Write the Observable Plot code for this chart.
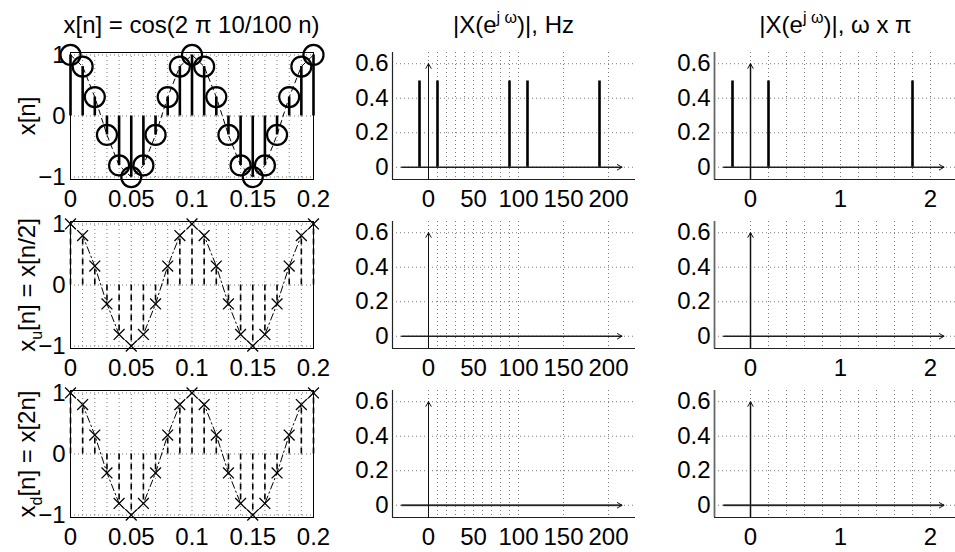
<!DOCTYPE html>
<html><head><meta charset="utf-8">
<script src="https://cdn.jsdelivr.net/npm/d3@7"></script>
<script src="https://cdn.jsdelivr.net/npm/@observablehq/plot@0.6"></script>
<style>
body{margin:0;background:#fff;}
#chart{position:relative;width:955px;height:552px;overflow:hidden;background:#fff;font-family:"Liberation Sans",Arial,sans-serif;color:#000;}
.title{position:absolute;width:340px;text-align:center;font-size:24px;line-height:24px;white-space:nowrap;}
.ylab{position:absolute;font-size:24px;line-height:24px;white-space:nowrap;transform:translate(-50%,-50%) rotate(-90deg);}
sup{font-size:16px;line-height:0;vertical-align:10px;}
sub{font-size:16px;line-height:0;vertical-align:-7px;}
svg{position:absolute;overflow:visible;}
</style></head>
<body><div id="chart"></div>
<script>
// ---- data ----
const sampleTimes = [0, 0.01, 0.02, 0.03, 0.04, 0.05, 0.06, 0.07, 0.08, 0.09, 0.1, 0.11, 0.12, 0.13, 0.14, 0.15, 0.16, 0.17, 0.18, 0.19, 0.2];
const xValues  = [1, 0.81, 0.31, -0.31, -0.81, -1, -0.81, -0.31, 0.31, 0.81, 1, 0.81, 0.31, -0.31, -0.81, -1, -0.81, -0.31, 0.31, 0.81, 1];
const xuValues = [1, 0.81, 0.31, -0.31, -0.81, -1, -0.81, -0.31, 0.31, 0.81, 1, 0.81, 0.31, -0.31, -0.81, -1, -0.81, -0.31, 0.31, 0.81, 1];
const xdValues = [1, 0.81, 0.31, -0.31, -0.81, -1, -0.81, -0.31, 0.31, 0.81, 1, 0.81, 0.31, -0.31, -0.81, -1, -0.81, -0.31, 0.31, 0.81, 1];

const hzFreqs = [-10, 10, 90, 110, 190];
const hzMags  = [0.5, 0.5, 0.5, 0.5, 0.5];
const radFreqs = [-0.2, 0.2, 1.8];
const radMags  = [0.5, 0.5, 0.5];
const xuHzFreqs = [], xuHzMags = [], xuRadFreqs = [], xuRadMags = [];
const xdHzFreqs = [], xdHzMags = [], xdRadFreqs = [], xdRadMags = [];

const timeXTicks = [0, 0.05, 0.1, 0.15, 0.2];
const timeYTicks = [-1, 0, 1];
const hzXTicks = [0, 50, 100, 150, 200];
const radXTicks = [0, 1, 2];
const specYTicks = [0, 0.2, 0.4, 0.6];
const hzGridX = [0, 10, 20, 30, 40, 50, 60, 70, 80, 90, 100, 150, 200];
const radGridX = [0, 0.2, 0.4, 0.6, 0.8, 1, 1.2, 1.4, 1.6, 1.8, 2];
const hzArrowX = [-30, 215];
const radArrowX = [-0.3, 2.15];
const specArrowTop = 0.6;

const titles = ["x[n] = cos(2 \u03c0 10/100 n)", "|X(e<sup>j \u03c9</sup>)|, Hz", "|X(e<sup>j \u03c9</sup>)|, \u03c9 x \u03c0"];
const yLabels = ["x[n]", "x<sub>u</sub>[n] = x[n/2]", "x<sub>d</sub>[n] = x[2n]"];

// ---- layout ----
const W = 243, H = 127;
const colX = [70, 392, 714];
const rowY = [52, 221, 390];
const chart = document.getElementById("chart");
const FONT = {fontFamily: '"Liberation Sans", Arial, sans-serif', fontSize: "24px", color: "black", background: "transparent", overflow: "visible"};
const grid = {stroke: "#7a7a7a", strokeDasharray: "1,3", strokeWidth: 1};
const fmt = d => d < 0 ? "\u2212" + (-d) : String(d);

function place(svg, col, row, ml, mt) {
  svg.style.left = (colX[col] - ml) + "px";
  svg.style.top = (rowY[row] - mt) + "px";
  chart.appendChild(svg);
}

function timePanel(values, kind) {
  const data = sampleTimes.map((t, i) => ({t, v: values[i], base: 0}));
  const marks = [Plot.ruleX(sampleTimes, grid), Plot.ruleY(timeYTicks, grid)];
  if (kind === "o") {
    marks.push(
      Plot.line(data, {x: "t", y: "v", stroke: "black", strokeWidth: 1, strokeDasharray: "5,4"}),
      Plot.ruleX(data, {x: "t", y1: "base", y2: "v", stroke: "black", strokeWidth: 2.6}),
      Plot.dot(data, {x: "t", y: "v", r: 10, stroke: "black", strokeWidth: 2.2, fill: "none"})
    );
  } else {
    marks.push(
      Plot.line(data, {x: "t", y: "v", stroke: "black", strokeWidth: 1, strokeDasharray: "7,3,1.5,3"}),
      Plot.ruleX(data, {x: "t", y1: "base", y2: "v", stroke: "black", strokeWidth: 1.6, strokeDasharray: "6,4"}),
      Plot.dot(data, {x: "t", y: "v", symbol: "times", r: 5, stroke: "black", strokeWidth: 1.3})
    );
  }
  marks.push(Plot.frame({stroke: "black", strokeWidth: 1}));
  return Plot.plot({
    width: 70 + W + 6, height: 14 + H + 40,
    marginLeft: 70, marginRight: 6, marginTop: 14, marginBottom: 40,
    style: FONT,
    x: {domain: [0, 0.2], ticks: timeXTicks, tickSize: 0, tickPadding: 10, tickFormat: fmt, label: null},
    y: {domain: [-1.04, 1.04], ticks: timeYTicks, tickSize: 0, tickPadding: 5, tickFormat: fmt, label: null},
    marks
  });
}

function specPanel(freqs, mags, cfg) {
  const stems = freqs.map((f, i) => ({f, m: mags[i], base: 0}));
  const yDom = [-0.071, 0.665];
  const hLine = [{x1: cfg.arrowX[0], x2: cfg.arrowX[1], y1: 0, y2: 0}];
  const vLine = [{x1: 0, x2: 0, y1: yDom[0], y2: specArrowTop}];
  const marks = [
    Plot.ruleX(cfg.gridX, grid),
    Plot.ruleY(specYTicks, grid),
    Plot.ruleX([cfg.domain[0]], {stroke: cfg.axisColor, strokeWidth: cfg.axisWidth}),
    Plot.ruleY([yDom[0]], {stroke: "#222", strokeWidth: 1.2}),
    Plot.link(hLine, {x1: "x1", x2: "x2", y1: "y1", y2: "y2", stroke: cfg.hColor, strokeWidth: cfg.hWidth}),
    Plot.link(vLine, {x1: "x1", x2: "x2", y1: "y1", y2: "y2", stroke: cfg.vColor, strokeWidth: cfg.vWidth}),
    Plot.arrow(hLine, {x1: "x1", x2: "x2", y1: "y1", y2: "y2", stroke: "#111", strokeWidth: 1, headLength: 8}),
    Plot.arrow(vLine, {x1: "x1", x2: "x2", y1: "y1", y2: "y2", stroke: "#111", strokeWidth: 1, headLength: 8}),
    Plot.ruleX(stems, {x: "f", y1: "base", y2: "m", stroke: "black", strokeWidth: 2.6})
  ];
  return Plot.plot({
    width: 60 + W + 4, height: 14 + H + 40,
    marginLeft: 60, marginRight: 4, marginTop: 14, marginBottom: 40,
    style: FONT,
    x: {domain: cfg.domain, ticks: cfg.ticks, tickSize: 0, tickPadding: 10, tickFormat: fmt, label: null},
    y: {domain: yDom, ticks: specYTicks, tickSize: 0, tickPadding: 4, tickFormat: fmt, label: null},
    marks
  });
}

const hzCfg = (h, v) => ({domain: [-40, 230], ticks: hzXTicks, gridX: hzGridX, arrowX: hzArrowX,
  axisColor: "#222", axisWidth: 1.2, hColor: h[0], hWidth: h[1], vColor: v[0], vWidth: v[1]});
const radCfg = (h, v) => ({domain: [-0.4, 2.3], ticks: radXTicks, gridX: radGridX, arrowX: radArrowX,
  axisColor: "#666", axisWidth: 1.8, hColor: h[0], hWidth: h[1], vColor: v[0], vWidth: v[1]});
const thin = ["#111", 1], thick = ["#666", 1.8];

place(timePanel(xValues, "o"), 0, 0, 70, 14);
place(timePanel(xuValues, "x"), 0, 1, 70, 14);
place(timePanel(xdValues, "x"), 0, 2, 70, 14);
place(specPanel(hzFreqs, hzMags, hzCfg(thin, thin)), 1, 0, 60, 14);
place(specPanel(xuHzFreqs, xuHzMags, hzCfg(thin, thin)), 1, 1, 60, 14);
place(specPanel(xdHzFreqs, xdHzMags, hzCfg(thick, thin)), 1, 2, 60, 14);
place(specPanel(radFreqs, radMags, radCfg(thin, thick)), 2, 0, 60, 14);
place(specPanel(xuRadFreqs, xuRadMags, radCfg(thin, thick)), 2, 1, 60, 14);
place(specPanel(xdRadFreqs, xdRadMags, radCfg(thick, thick)), 2, 2, 60, 14);

// titles
titles.forEach((t, i) => {
  const d = document.createElement("div");
  d.className = "title";
  d.innerHTML = t;
  d.style.left = (colX[i] + W / 2 - 170) + "px";
  d.style.top = "13px";
  chart.appendChild(d);
});
// y labels
yLabels.forEach((t, i) => {
  const d = document.createElement("div");
  d.className = "ylab";
  d.innerHTML = t;
  d.style.left = "27px";
  d.style.top = (rowY[i] + H / 2) + "px";
  chart.appendChild(d);
});
</script>
</body></html>
